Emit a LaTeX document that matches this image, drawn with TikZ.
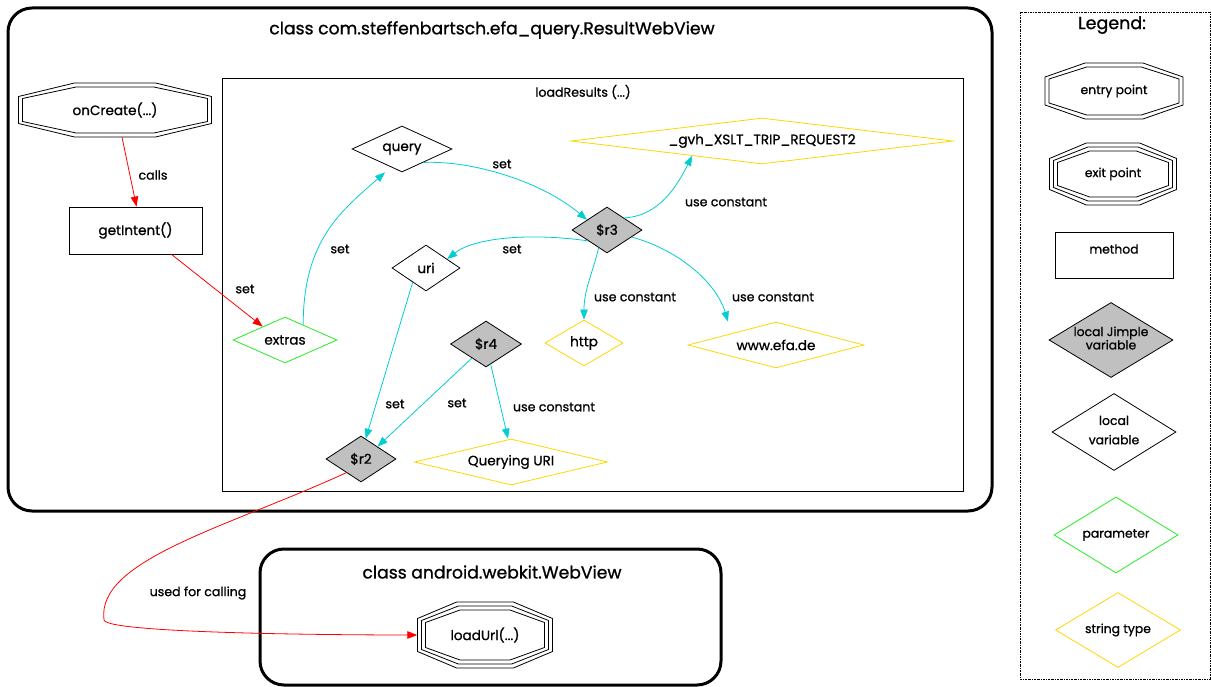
\documentclass[tikz,border=0pt]{standalone}
\usepackage{fontspec}
\setmainfont{Poppins}[FakeBold=0.9]
\usetikzlibrary{shapes.geometric,arrows.meta,calc}
\definecolor{cy}{HTML}{00CED1}
\definecolor{gd}{HTML}{FFD700}
\definecolor{gn}{HTML}{22EE22}
\definecolor{gy}{HTML}{C0C0C0}
\newcommand\zw[1]{\makebox[0pt]{#1}}
\newcommand\myocta[4]{%
  \foreach \k in {1,...,#4}{%
    \pgfmathsetmacro\aa{#2-4*(\k-1)}%
    \pgfmathsetmacro\bb{#3-4*(\k-1)}%
    \draw[line width=0.8pt, shift={(#1.center)}] (-0.42*\aa,-\bb) -- (0.42*\aa,-\bb) -- (\aa,-0.5*\bb) -- (\aa,0.5*\bb) -- (0.42*\aa,\bb) -- (-0.42*\aa,\bb) -- (-\aa,0.5*\bb) -- (-\aa,-0.5*\bb) -- cycle;}}
\tikzset{
  nfont/.style={font=\fontsize{13.6}{15}\selectfont},
  lfont/.style={font=\fontsize{12.6}{14}\selectfont},
  gfont/.style={font=\fontsize{12.4}{13}\selectfont},
  octnode/.style={draw=none, inner sep=0pt, nfont},
  boxnode/.style={draw, line width=0.8pt, inner sep=0pt, nfont},
  dia/.style={diamond, draw, line width=0.8pt, inner sep=0pt, nfont},
  jimple/.style={dia, fill=gy},
  strnode/.style={dia, draw=gd},
  parnode/.style={dia, draw=gn},
  elab/.style={inner sep=0pt, lfont},
  ce/.style={draw=cy, line width=0.8pt, -{Triangle[length=10pt,width=7.5pt]}},
  re/.style={draw=red, line width=0.8pt, -{Triangle[length=10pt,width=7.5pt]}},
  cluster/.style={line width=3pt, rounded corners=24pt},
}
\begin{document}
\begin{tikzpicture}[x=1pt,y=-1pt]
\useasboundingbox (0,0) rectangle (1211,687);
\fill[white] (0,0) rectangle (1211,687);
% clusters
\draw[cluster] (8,8) rectangle (992,511);
\node[inner sep=0pt, font=\fontsize{17.2}{19}\selectfont] (t1) at (492,30) {class com.steffenbartsch.efa\_query.ResultWebView};
\draw[line width=0.9pt] (222,78) rectangle (963,491);
\node[inner sep=0pt, lfont] (t2) at (583,92) {loadResults (...)};
\draw[cluster] (260,549) rectangle (721,685);
\node[inner sep=0pt, font=\fontsize{17.2}{19}\selectfont] (t3) at (492,572) {class android.webkit.WebView};
\draw[line width=0.8pt, dash pattern=on 2pt off 1pt on 0.6pt off 1pt] (1020,12) rectangle (1210,679);
\node[inner sep=0pt, font=\fontsize{17.5}{19}\selectfont] (t4) at (1112,25) {Legend:};
% nodes
\node[octnode, minimum width=193, minimum height=54] (onCreate) at (115,110) {onCreate(...)};
\myocta{onCreate}{96.5}{27}{2}
\node[boxnode, minimum width=133, minimum height=47] (getIntent) at (135.5,230.5) {getIntent()};
\node[parnode, minimum width=104, minimum height=46] (extras) at (285,340) {\zw{extras}};
\node[dia, minimum width=100, minimum height=46] (query) at (402,149) {\zw{query}};
\node[jimple, minimum width=70, minimum height=46] (r3) at (607,230) {\zw{\$r3}};
\node[strnode, minimum width=382, minimum height=46] (gvh) at (762,141) {\zw{\_gvh\_XSLT\_TRIP\_REQUEST2}};
\node[dia, minimum width=68, minimum height=46] (uri) at (426,268) {\zw{uri}};
\node[strnode, minimum width=78, minimum height=46] (http) at (584,343) {\zw{http}};
\node[strnode, minimum width=176, minimum height=46] (www) at (776,345) {\zw{www.efa.de}};
\node[jimple, minimum width=71, minimum height=46] (r4) at (486,344) {\zw{\$r4}};
\node[jimple, minimum width=70, minimum height=46] (r2) at (361,459) {\zw{\$r2}};
\node[strnode, minimum width=193, minimum height=46] (qu) at (511,462) {\zw{Querying URI}};
\node[octnode, minimum width=135, minimum height=66] (loadUrl) at (485,635) {loadUrl(...)};
\myocta{loadUrl}{67.5}{33}{3}
% legend
\node[octnode, gfont, minimum width=138, minimum height=56] (lentry) at (1114,91) {entry point};
\myocta{lentry}{69}{28}{2}
\node[octnode, gfont, minimum width=127, minimum height=62] (lexit) at (1113,174) {exit point};
\myocta{lexit}{63.5}{31}{3}
\node[boxnode, gfont, minimum width=118, minimum height=46] (lmethod) at (1114,255) {\raisebox{12pt}{method}};
\node[jimple, gfont, minimum width=124, minimum height=75] (ljimple) at (1111,340) {\zw{\begin{tabular}{@{}c@{}}local Jimple\\variable\end{tabular}}};
\node[dia, gfont, minimum width=124, minimum height=77] (llocal) at (1114,432) {\zw{\begin{tabular}{@{}c@{}}local\\[6pt]variable\end{tabular}}};
\node[parnode, gfont, minimum width=124, minimum height=76] (lparam) at (1116,535) {\zw{parameter}};
\node[strnode, gfont, minimum width=125, minimum height=75] (lstring) at (1118,630) {\zw{string type}};
% edges
\draw[re] ([xshift=7pt]onCreate.south) -- ([xshift=1pt]getIntent.north);
\draw[re] ([xshift=36pt]getIntent.south) -- (extras.149);
\draw[ce] (extras.40) .. controls +(0,-85) and +(-43,38) .. ([xshift=-17pt]query.south);
\draw[ce] (query.-32) .. controls +(50,-2) and +(-45,-38) .. (r3.153);
\draw[ce] (r3.210) .. controls +(-55,-8) and +(28,-22) .. (uri.23);
\draw[ce] (r3.35) .. controls +(35,-2) and +(-15,30) .. (gvh.192);
\draw[ce] (r3.245) .. controls +(-6,25) and +(0,-30) .. (http.north);
\draw[ce] (r3.-16) .. controls +(45,12) and +(-12,-40) .. ([xshift=-48pt]www.north);
\draw[ce] (uri.227) -- (r2.77);
\draw[ce] (r4.225) -- (r2.37);
\draw[ce] (r4.-77) -- ([xshift=-3pt]qu.north);
\draw[re] (r2.223) .. controls +(-120,55) and +(-8,-60) .. (104,620) .. controls +(3,14) and +(-60,0) .. (loadUrl.west);
% edge labels
\node[elab] (e1) at (153,175) {calls};
\node[elab] (e2) at (245,289) {set};
\node[elab] (e3) at (340,249) {set};
\node[elab] (e4) at (502,164) {set};
\node[elab] (e5) at (512,249) {set};
\node[elab] (e6) at (726,202) {use constant};
\node[elab] (e7) at (635,297) {use constant};
\node[elab] (e8) at (773,297) {use constant};
\node[elab] (e9) at (395,404) {set};
\node[elab] (e10) at (457,403) {set};
\node[elab] (e11) at (554,407) {use constant};
\node[elab] (e12) at (198,593) {used for calling};
\end{tikzpicture}
\end{document}
